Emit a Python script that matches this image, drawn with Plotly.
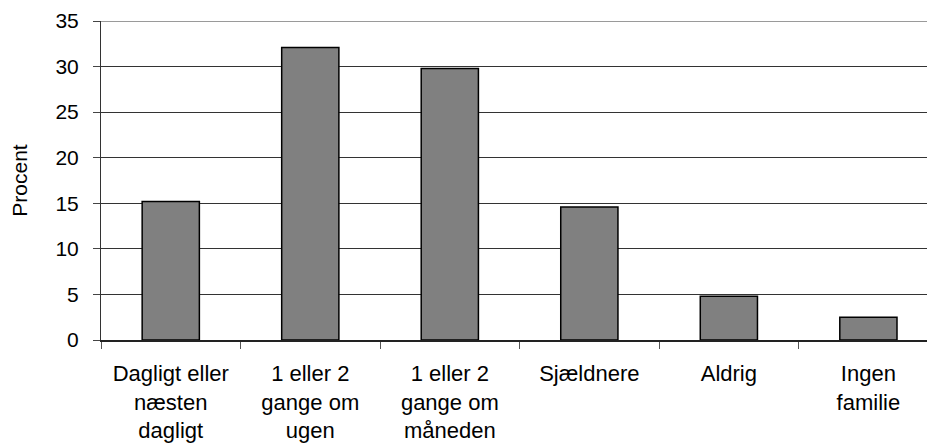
import plotly.graph_objects as go

# Hvor ofte man ser sin familie (procent)
categories = [
    "Dagligt eller<br>næsten<br>dagligt",
    "1 eller 2<br>gange om<br>ugen",
    "1 eller 2<br>gange om<br>måneden",
    "Sjældnere",
    "Aldrig",
    "Ingen<br>familie",
]
values = [15.2, 32.1, 29.8, 14.6, 4.8, 2.5]
y_ticks = [0, 5, 10, 15, 20, 25, 30, 35]

font_family = "Liberation Sans, Arial, sans-serif"

fig = go.Figure(
    go.Bar(
        x=categories,
        y=values,
        width=0.41,
        marker=dict(color="#808080", line=dict(color="#000000", width=1.5)),
        hoverinfo="x+y",
    )
)

fig.update_layout(
    width=927,
    height=445,
    margin=dict(l=101, r=0, t=21, b=105),
    paper_bgcolor="white",
    plot_bgcolor="white",
    showlegend=False,
    font=dict(family=font_family, size=21, color="#000000"),
    shapes=[
        dict(
            type="line", xref="paper", yref="y",
            x0=0, x1=1, y0=y_ticks[-1], y1=y_ticks[-1],
            line=dict(color="#9a9a9a", width=2), layer="above",
        )
    ],
)

fig.update_xaxes(
    range=[-0.5, 5.42],
    showgrid=False,
    showline=True,
    linecolor="#222222",
    linewidth=1.5,
    ticks="outside",
    tickson="boundaries",
    ticklen=7,
    tickcolor="#555555",
    tickwidth=1,
    ticklabelstandoff=13,
    tickfont=dict(size=22),
    fixedrange=True,
)

fig.update_yaxes(
    range=[0, 35],
    tickvals=y_ticks,
    showgrid=True,
    gridcolor="#333333",
    gridwidth=1,
    showline=True,
    linecolor="#333333",
    linewidth=1,
    ticks="outside",
    ticklen=7,
    tickcolor="#444444",
    ticklabelstandoff=10,
    tickfont=dict(size=21),
    title=dict(text="Procent", font=dict(size=21), standoff=22),
    zeroline=False,
    fixedrange=True,
)

fig.write_html("out.html")
